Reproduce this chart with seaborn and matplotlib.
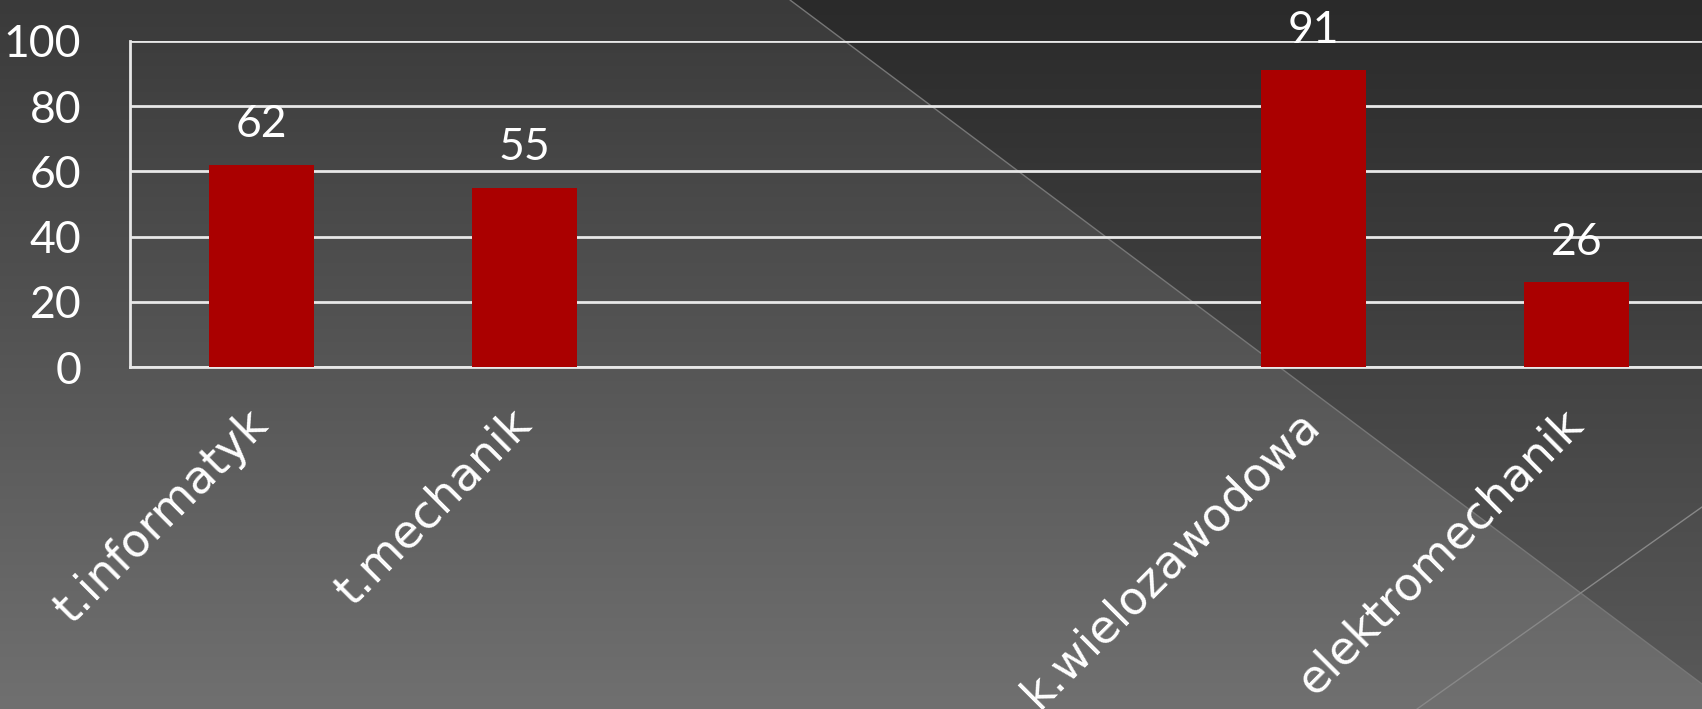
import matplotlib
matplotlib.use("Agg")

import matplotlib.pyplot as plt
import numpy as np
import pandas as pd
import seaborn as sns

# Dane wykresu (dwie kategorie bez wartości i bez podpisu)
kategorie = ["t.informatyk", "t.mechanik", " ", "  ", "k.wielozawodowa", "elektromechanik"]
wartosci = [62, 55, np.nan, np.nan, 91, 26]
y_ticks = [0, 20, 40, 60, 80, 100]

RENK_BAR = "#AA0000"
RENK_METIN = "white"
RENK_LINIA = "#e8e8e8"
FONT_LICZBY = ["Lato", "DejaVu Sans"]
FONT_PODPISY = ["DejaVu Sans"]

W, H = 1702, 709


def tlo(fig):
    """Ciemne tło z gradientem i ukośnymi liniami (jak w szablonie slajdu)."""
    bg = fig.add_axes([0, 0, 1, 1], zorder=-10)
    yy, xx = np.mgrid[0:H, 0:W]
    t = yy / H
    lewy = 0x3a + (0x70 - 0x3a) * t
    prawy = 0x2a + (0x5a - 0x2a) * t
    nad = yy < 0.75 * (xx - 790)
    img = np.where(nad, prawy, lewy) / 255.0
    bg.imshow(np.dstack([img, img, img]), extent=(0, W, H, 0), aspect="auto")
    bg.plot([790, W], [0, 0.75 * (W - 790)], color="#777777", lw=1)
    bg.plot([1417, W], [H, 507], color="#888888", lw=1)
    bg.set_xlim(0, W)
    bg.set_ylim(H, 0)
    bg.axis("off")


sns.set_theme(style="white")
plt.rcParams["font.family"] = FONT_LICZBY

fig = plt.figure(figsize=(W / 100, H / 100), dpi=100)
tlo(fig)

ax = fig.add_axes([130 / W, 1 - 367 / H, 1578 / W, (367 - 41) / H])
ax.patch.set_alpha(0)

df = pd.DataFrame({"kategoria": kategorie, "wartosc": wartosci})
sns.barplot(data=df, x="kategoria", y="wartosc", color=RENK_BAR, saturation=1,
            width=0.4, linewidth=0, edgecolor="none", ax=ax, zorder=3)

for i, v in enumerate(wartosci):
    if not np.isnan(v):
        ax.text(i, v + 6, f"{v:.0f}", ha="center", va="bottom",
                fontsize=32, color=RENK_METIN, family=FONT_LICZBY)

ax.set_ylim(0, 100)
ax.set_xlim(-0.5, 5.5)
ax.set_yticks(y_ticks)
ax.yaxis.grid(True, color=RENK_LINIA, linewidth=2, zorder=1)
ax.set_axisbelow(True)

ax.set_xticks(np.arange(-0.5, 6, 1), minor=True)
ax.tick_params(axis="x", which="minor", length=13, width=2, color=RENK_LINIA, direction="out")
ax.tick_params(axis="x", which="major", length=0, pad=36)
ax.tick_params(axis="y", length=15, width=2, color=RENK_LINIA, direction="out", pad=20,
               labelsize=32, labelcolor=RENK_METIN)
ax.set_xticks(range(len(kategorie)))
ax.set_xticklabels(kategorie, rotation=45, ha="right", va="center", rotation_mode="anchor",
                   fontsize=33, color=RENK_METIN, family=FONT_PODPISY)

for s in ["top", "right"]:
    ax.spines[s].set_visible(False)
for s in ["left", "bottom"]:
    ax.spines[s].set_color(RENK_LINIA)
    ax.spines[s].set_linewidth(2)
ax.set_xlabel("")
ax.set_ylabel("")

fig.savefig("out.png", dpi=100)
plt.close(fig)
